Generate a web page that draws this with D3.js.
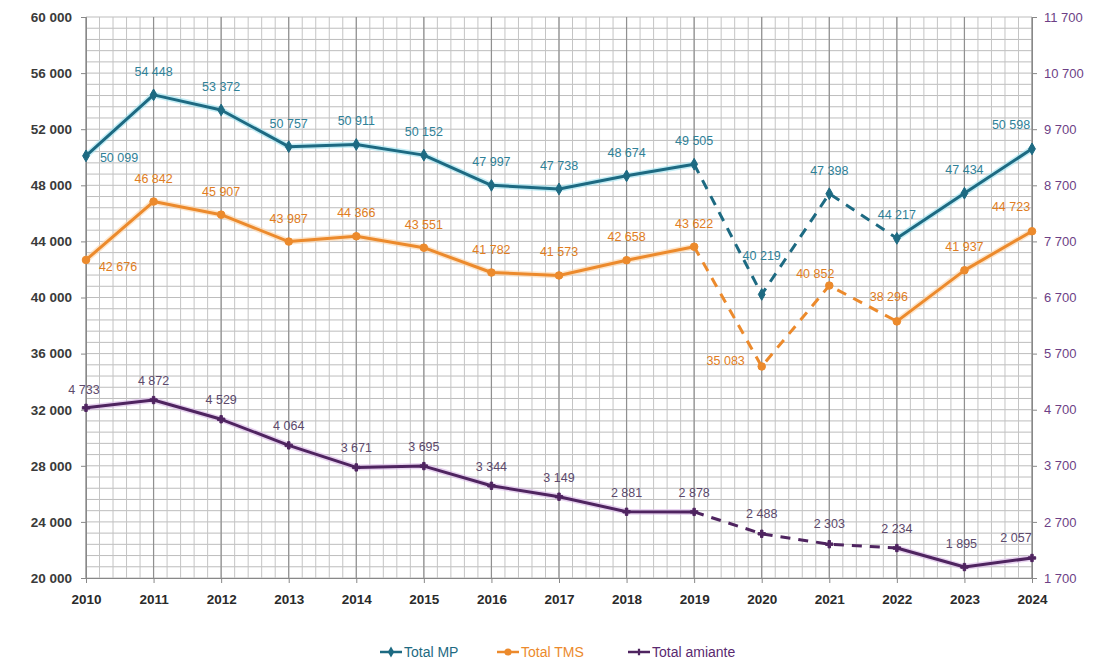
<!DOCTYPE html>
<html>
<head>
<meta charset="utf-8">
<script src="https://cdn.jsdelivr.net/npm/d3@7"></script>
<style>
  body { margin: 0; background: #fff; }
  svg text { font-family: "Liberation Sans", Arial, sans-serif; }
</style>
</head>
<body>
<svg id="chart"></svg>
<script>
// data
var years = [2010, 2011, 2012, 2013, 2014, 2015, 2016, 2017, 2018, 2019, 2020, 2021, 2022, 2023, 2024];
var totalMP = [50099, 54448, 53372, 50757, 50911, 50152, 47997, 47738, 48674, 49505, 40219, 47398, 44217, 47434, 50598];
var totalTMS = [42676, 46842, 45907, 43987, 44366, 43551, 41782, 41573, 42658, 43622, 35083, 40852, 38296, 41937, 44723];
var totalAmiante = [4733, 4872, 4529, 4064, 3671, 3695, 3344, 3149, 2881, 2878, 2488, 2303, 2234, 1895, 2057];
var leftTicks = [20000, 24000, 28000, 32000, 36000, 40000, 44000, 48000, 52000, 56000, 60000];
var rightTicks = [1700, 2700, 3700, 4700, 5700, 6700, 7700, 8700, 9700, 10700, 11700];
var dashFrom = 2019, dashTo = 2022;

var width = 1107, height = 660;
var margin = { top: 17, right: 75, bottom: 82, left: 86 };
var bw = width - margin.left - margin.right;
var bh = height - margin.top - margin.bottom;

var svg = d3.select("#chart").attr("width", width).attr("height", height);
var g = svg.append("g").attr("transform", `translate(${margin.left},${margin.top})`);

var x = d3.scaleLinear().domain([2010, 2024]).range([0, bw]);
var yL = d3.scaleLinear().domain([20000, 60000]).range([bh, 0]);
var yR = d3.scaleLinear().domain([1700, 11700]).range([bh, 0]);

// grid - minor lines
var minorX = d3.range(2010, 2024.001, 0.2);
var minorY = d3.range(20000, 60000.1, 800);
g.append("g").selectAll("line").data(minorY).enter().append("line")
  .attr("x1", 0).attr("x2", bw)
  .attr("y1", d => yL(d)).attr("y2", d => yL(d))
  .attr("stroke", "#bdbdbd").attr("stroke-width", 1);
g.append("g").selectAll("line").data(minorX).enter().append("line")
  .attr("y1", 0).attr("y2", bh)
  .attr("x1", d => x(d)).attr("x2", d => x(d))
  .attr("stroke", "#c4c4c4").attr("stroke-width", 1);
g.append("g").selectAll("line").data(years).enter().append("line")
  .attr("y1", 0).attr("y2", bh)
  .attr("x1", d => x(d)).attr("x2", d => x(d))
  .attr("stroke", "#909090").attr("stroke-width", 1.2);

var fmt = d => d3.format(",")(d).replace(",", " ");

// axes
var axL = g.append("g").call(d3.axisLeft(yL).tickValues(leftTicks).tickSize(5).tickFormat(fmt));
axL.select(".domain").attr("stroke", "#888");
axL.selectAll(".tick line").attr("stroke", "#888");
axL.selectAll("text").attr("font-size", 13.5).attr("font-weight", "bold").attr("fill", "#3a3a3a").attr("dx", -6);

var axR = g.append("g").attr("transform", `translate(${bw},0)`)
  .call(d3.axisRight(yR).tickValues(rightTicks).tickSize(5).tickFormat(fmt));
axR.select(".domain").attr("stroke", "#888");
axR.selectAll(".tick line").attr("stroke", "#888");
axR.selectAll("text").attr("font-size", 13).attr("fill", "#6d3f86").attr("dx", 4);

var axB = g.append("g").attr("transform", `translate(0,${bh})`)
  .call(d3.axisBottom(x).tickValues(years).tickSize(5).tickFormat(d3.format("d")));
axB.select(".domain").attr("stroke", "#888");
axB.selectAll(".tick line").attr("stroke", "#888");
axB.selectAll("text").attr("font-size", 13.5).attr("font-weight", "bold").attr("fill", "#2a2a2a").attr("dy", 18);

var series = [
  { name: "Total MP", values: totalMP, y: yL, color: "#1d6a82", halo: "#9fe3f0", label: "#2f8198", marker: "diamond" },
  { name: "Total TMS", values: totalTMS, y: yL, color: "#ec8a2c", halo: "#fbd3a8", label: "#e07d22", marker: "circle" },
  { name: "Total amiante", values: totalAmiante, y: yR, color: "#4f2460", halo: "#d9b8e6", label: "#5d4a6c", marker: "plus" }
];

// label offsets (dx, dy) where default "above" doesn't fit
var labelOffsets = {
  "Total MP": { 0: [33, 6], 10: [0, -34], 14: [-21, -20] },
  "Total TMS": { 0: [32, 11], 10: [-36, -1], 11: [-14, -8], 12: [-8, -20], 14: [-21, -20] },
  "Total amiante": { 0: [-2, -14], 10: [0, -16], 11: [0, -16], 13: [-3, -19], 14: [-16, -16] }
};

series.forEach(function (s) {
  var pts = years.map((yr, i) => ({ year: yr, v: s.values[i], i: i }));
  var line = d3.line().x(d => x(d.year)).y(d => s.y(d.v));
  var seg1 = pts.filter(d => d.year <= dashFrom);
  var seg2 = pts.filter(d => d.year >= dashFrom && d.year <= dashTo);
  var seg3 = pts.filter(d => d.year >= dashTo);

  [seg1, seg3].forEach(function (seg) {
    g.append("path").attr("d", line(seg)).attr("fill", "none")
      .attr("stroke", s.halo).attr("stroke-width", 6).attr("stroke-opacity", 0.6);
    g.append("path").attr("d", line(seg)).attr("fill", "none")
      .attr("stroke", s.color).attr("stroke-width", 3).attr("stroke-linejoin", "round");
  });
  g.append("path").attr("d", line(seg2)).attr("fill", "none")
    .attr("stroke", s.color).attr("stroke-width", 3).attr("stroke-dasharray", "10,8");

  var m = g.append("g").selectAll("path").data(pts).enter().append("path")
    .attr("transform", d => `translate(${x(d.year)},${s.y(d.v)})`)
    .attr("fill", s.color).attr("stroke", s.color);
  if (s.marker === "diamond") m.attr("d", d3.symbol(d3.symbolDiamond, 40)());
  else if (s.marker === "circle") m.attr("d", d3.symbol(d3.symbolCircle, 45)());
  else m.attr("d", d3.symbol(d3.symbolCross, 30)());

  var offs = labelOffsets[s.name];
  g.append("g").selectAll("text").data(pts).enter().append("text")
    .attr("x", d => x(d.year) + (offs[d.i] ? offs[d.i][0] : 0))
    .attr("y", d => s.y(d.v) + (offs[d.i] ? offs[d.i][1] : (s.marker === "plus" ? -15 : -19)))
    .attr("text-anchor", "middle")
    .attr("font-size", 12.5)
    .attr("fill", s.label)
    .text(d => fmt(d.v));
});

// legend
var legend = svg.append("g").attr("transform", "translate(0,652)");
var legendX = [380, 497, 628];
series.forEach(function (s, i) {
  var lx = legendX[i];
  legend.append("line").attr("x1", lx).attr("x2", lx + 22).attr("y1", 0).attr("y2", 0)
    .attr("stroke", s.color).attr("stroke-width", 2.5);
  var mk = legend.append("path").attr("transform", `translate(${lx + 11},0)`).attr("fill", s.color);
  if (s.marker === "diamond") mk.attr("d", d3.symbol(d3.symbolDiamond, 35)());
  else if (s.marker === "circle") mk.attr("d", d3.symbol(d3.symbolCircle, 40)());
  else mk.attr("d", d3.symbol(d3.symbolCross, 25)());
  legend.append("text").attr("x", lx + 24).attr("y", 5)
    .attr("font-size", 14).attr("fill", s.marker === "plus" ? "#5a2a70" : s.color)
    .text(s.name);
});
</script>
</body>
</html>
